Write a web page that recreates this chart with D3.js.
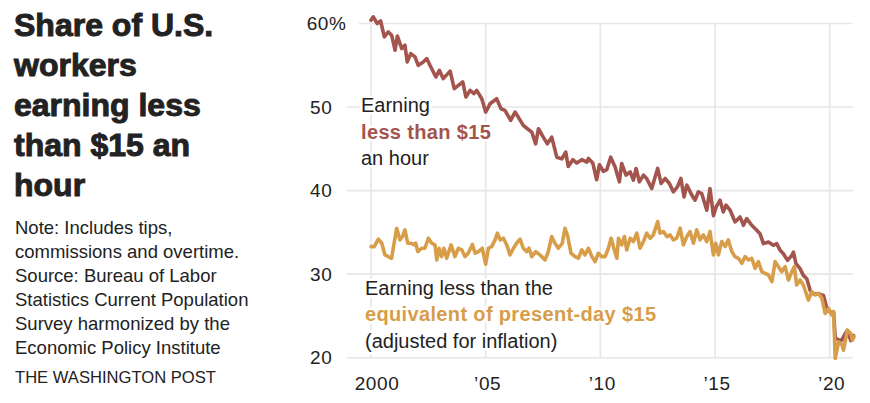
<!DOCTYPE html>
<html>
<head>
<meta charset="utf-8">
<script src="https://cdn.jsdelivr.net/npm/d3@7"></script>
<style>
  html, body { margin: 0; padding: 0; background: #fff; }
  svg { display: block; }
  text { font-family: "Liberation Sans", Arial, sans-serif; fill: #222; }
</style>
</head>
<body>
<svg id="chart" width="870" height="403"></svg>
<script>
// ---------- DATA ----------
const titleLines = ["Share of U.S.", "workers", "earning less", "than $15 an", "hour"];
const noteLines = ["Note: Includes tips,", "commissions and overtime.", "Source: Bureau of Labor",
  "Statistics Current Population", "Survey harmonized by the", "Economic Policy Institute"];
const credit = "THE WASHINGTON POST";

const yTicks = [20, 30, 40, 50, 60];
const yTickLabels = ["20", "30", "40", "50", "60%"];
const xTicks = [2000, 2005, 2010, 2015, 2020];
const xTickLabels = ["2000", "\u201905", "\u201910", "\u201915", "\u201920"];

// Share earning less than $15 (nominal)
const nominalYears = [0.00,0.10,0.27,0.42,0.58,0.75,0.90,1.05,1.15,1.34,1.48,1.58,1.73,1.92,2.06,2.28,2.43,2.57,2.83,2.98,
  3.15,3.45,3.63,3.81,4.00,4.14,4.32,4.49,4.61,4.83,5.00,5.19,5.48,5.67,5.84,6.09,6.28,6.42,6.64,6.82,
  7.01,7.18,7.30,7.51,7.69,7.88,8.10,8.32,8.49,8.60,8.80,8.97,9.19,9.41,9.48,9.67,9.84,9.96,10.13,10.28,
  10.45,10.64,10.83,10.93,11.12,11.30,11.44,11.56,11.70,11.88,12.02,12.24,12.39,12.50,12.65,12.82,13.01,13.18,13.36,13.51,
  13.65,13.77,13.99,14.13,14.27,14.42,14.64,14.78,14.93,15.05,15.22,15.36,15.48,15.66,15.87,16.09,16.24,16.38,16.60,16.82,
  16.96,17.11,17.33,17.54,17.69,17.84,17.98,18.16,18.35,18.42,18.53,18.71,18.85,19.00,19.15,19.29,19.51,19.73,19.88,20.02,
  20.17,20.24,20.39,20.53,20.67,20.77,20.92,21.04].map(d => 2000 + d);
const nominalShare = [60.4,60.8,60.0,60.3,58.4,59.0,58.6,56.8,58.5,57.0,57.4,55.4,56.4,56.0,55.0,55.4,55.8,55.0,53.6,54.4,
  53.4,54.3,52.2,52.6,53.0,51.2,52.0,51.6,52.0,51.0,49.4,50.4,51.0,49.8,49.6,48.4,49.4,48.8,47.8,47.4,
  47.0,45.6,47.4,46.4,45.6,46.4,44.0,43.8,44.6,42.9,43.7,43.3,43.7,43.4,43.85,43.3,41.3,43.1,42.3,42.5,
  44.0,42.85,41.05,43.25,41.85,42.25,41.25,42.65,41.05,41.85,41.45,40.25,41.65,42.65,40.85,41.45,40.85,39.85,40.45,41.45,
  39.25,40.65,39.45,38.85,39.85,39.65,37.65,40.25,37.0,38.05,38.85,37.45,38.25,37.65,36.25,36.85,35.85,36.65,35.85,35.25,
  34.85,33.65,33.85,33.45,33.65,32.85,32.45,31.65,32.25,32.65,31.25,30.65,29.85,29.45,28.05,27.65,27.65,27.45,25.85,25.45,
  25.45,22.4,22.1,22.1,22.85,23.25,22.05,22.65];

// Share earning less than the equivalent of present-day $15 (inflation adjusted)
const realYears = [0.00,0.14,0.32,0.47,0.61,0.75,0.90,0.97,1.12,1.26,1.37,1.48,1.60,1.74,1.89,1.95,2.04,2.21,2.35,2.50,
  2.65,2.79,2.87,2.97,3.08,3.18,3.30,3.49,3.66,3.81,3.96,4.10,4.24,4.42,4.54,4.68,4.85,5.00,5.12,5.26,
  5.41,5.51,5.63,5.77,5.92,6.06,6.21,6.35,6.50,6.64,6.79,6.89,7.01,7.18,7.37,7.59,7.73,7.88,8.02,8.17,
  8.34,8.46,8.58,8.72,8.90,9.04,9.19,9.33,9.48,9.63,9.77,9.91,10.06,10.21,10.35,10.47,10.61,10.72,10.79,10.93,
  11.05,11.15,11.30,11.44,11.59,11.73,11.88,12.02,12.17,12.31,12.50,12.60,12.75,12.90,13.04,13.18,13.33,13.48,13.62,13.77,
  13.91,14.06,14.20,14.35,14.49,14.64,14.78,14.93,15.03,15.15,15.29,15.44,15.58,15.73,15.87,16.02,16.17,16.31,16.46,16.60,
  16.75,16.89,17.04,17.18,17.33,17.48,17.62,17.76,17.91,18.06,18.20,18.35,18.46,18.56,18.71,18.85,19.07,19.22,19.36,19.51,
  19.66,19.80,19.95,20.09,20.17,20.24,20.39,20.53,20.60,20.77,20.92,20.99,21.06].map(d => 2000 + d);
const realShare = [33.3,33.3,34.2,33.7,32.3,32.1,31.9,33.1,35.5,34.1,34.5,35.3,33.7,33.7,33.5,33.7,32.7,33.1,33.1,34.3,
  33.7,33.5,31.7,33.1,32.1,33.1,31.9,33.5,32.1,33.1,32.9,32.1,32.5,33.55,32.5,32.7,33.1,31.2,33.1,33.3,
  34.1,34.9,34.1,34.3,33.5,32.3,33.1,33.7,34.2,33.1,32.7,33.1,32.1,32.7,32.3,31.7,32.7,34.5,33.7,33.1,
  33.7,35.5,34.5,32.5,32.1,31.9,32.9,32.3,33.1,32.1,31.5,32.5,32.1,32.1,33.1,34.3,32.9,31.9,34.3,33.5,
  34.5,32.9,34.3,33.9,34.9,33.1,33.9,34.9,34.3,34.7,36.3,34.9,35.1,34.5,34.7,34.1,34.3,35.5,33.5,34.5,
  35.1,33.7,35.3,34.1,34.7,33.9,35.1,32.3,33.7,32.3,33.9,33.3,34.1,32.7,32.1,31.9,31.3,32.1,31.7,31.9,
  30.7,31.5,30.3,30.1,29.9,29.1,31.5,30.9,30.3,30.9,29.3,30.3,30.9,28.7,29.3,28.7,26.9,27.9,27.5,27.7,
  27.1,25.3,25.9,25.1,25.5,19.9,21.9,21.6,20.9,23.3,22.9,22.1,22.5];

// ---------- CHART ----------
const svg = d3.select("#chart");
const RED = "#a3544c", GOLD = "#d79d48", GRID = "#e6e6e6";

const x = d3.scaleLinear().domain([2000, 2020]).range([371, 829.7]);
const y = d3.scaleLinear().domain([20, 60]).range([357.7, 23.5]);
const gridLeft = 347, gridRight = 852.7;

// title
const title = svg.append("text").attr("x", 14).attr("y", 36)
  .style("font-size", "32px").style("font-weight", "bold")
  .style("stroke", "#222").style("stroke-width", "1px");
titleLines.forEach((t, i) => title.append("tspan").attr("x", 14).attr("y", 36 + i * 40).text(t));

// notes
const note = svg.append("text").style("font-size", "18.5px");
noteLines.forEach((t, i) => note.append("tspan").attr("x", 15).attr("y", 233.5 + i * 24).text(t));
svg.append("text").attr("x", 15).attr("y", 382.7).style("font-size", "16.6px").text(credit);

// grid
const grid = svg.append("g");
grid.selectAll("line.h").data(yTicks).join("line")
  .attr("x1", d => d === 60 ? 359 : gridLeft).attr("x2", gridRight)
  .attr("y1", d => y(d)).attr("y2", d => y(d))
  .attr("stroke", GRID).attr("stroke-width", 1.6);
grid.selectAll("line.v").data(xTicks).join("line")
  .attr("x1", d => x(d)).attr("x2", d => x(d))
  .attr("y1", y(60)).attr("y2", y(20))
  .attr("stroke", GRID).attr("stroke-width", 1.6);

// axis labels
svg.append("g").selectAll("text").data(yTicks).join("text")
  .attr("x", (d, i) => d === 60 ? 306.7 : 310)
  .attr("y", d => y(d) + 6.5)
  .style("font-size", "19px").style("letter-spacing", "0.6px")
  .text((d, i) => yTickLabels[i]);
svg.append("g").selectAll("text").data(xTicks).join("text")
  .attr("x", (d, i) => x(d) + (i === 0 ? 6 : 2))
  .attr("y", 390)
  .attr("text-anchor", "middle")
  .style("font-size", "19px").style("letter-spacing", "0.6px")
  .text((d, i) => xTickLabels[i]);

// lines
const line = d3.line().x(d => x(d[0])).y(d => y(d[1])).curve(d3.curveLinear);
const nominal = nominalYears.map((t, i) => [t, nominalShare[i]]);
const real = realYears.map((t, i) => [t, realShare[i]]);
svg.append("path").datum(nominal).attr("d", line)
  .attr("fill", "none").attr("stroke", RED).attr("stroke-width", 3.6)
  .attr("stroke-linejoin", "round").attr("stroke-linecap", "round");
svg.append("path").datum(real).attr("d", line)
  .attr("fill", "none").attr("stroke", GOLD).attr("stroke-width", 3.6)
  .attr("stroke-linejoin", "round").attr("stroke-linecap", "round");

// annotations
function annot(xp, y0, parts) {
  const t = svg.append("text").style("font-size", "20px")
    .style("paint-order", "stroke").style("stroke", "#fff").style("stroke-width", "5px")
    .style("stroke-linejoin", "round");
  parts.forEach((p, i) => {
    t.append("tspan").attr("x", xp).attr("y", y0 + i * 26.3).text(p.text)
      .style("font-weight", p.bold ? "bold" : "normal")
      .style("letter-spacing", p.bold ? "0.35px" : "0px")
      .style("fill", p.color || "#222");
  });
}
annot(361, 112.3, [
  { text: "Earning" },
  { text: "less than $15", bold: true, color: RED },
  { text: "an hour" }
]);
annot(365, 295, [
  { text: "Earning less than the" },
  { text: "equivalent of present-day $15", bold: true, color: GOLD },
  { text: "(adjusted for inflation)" }
]);
</script>
</body>
</html>
